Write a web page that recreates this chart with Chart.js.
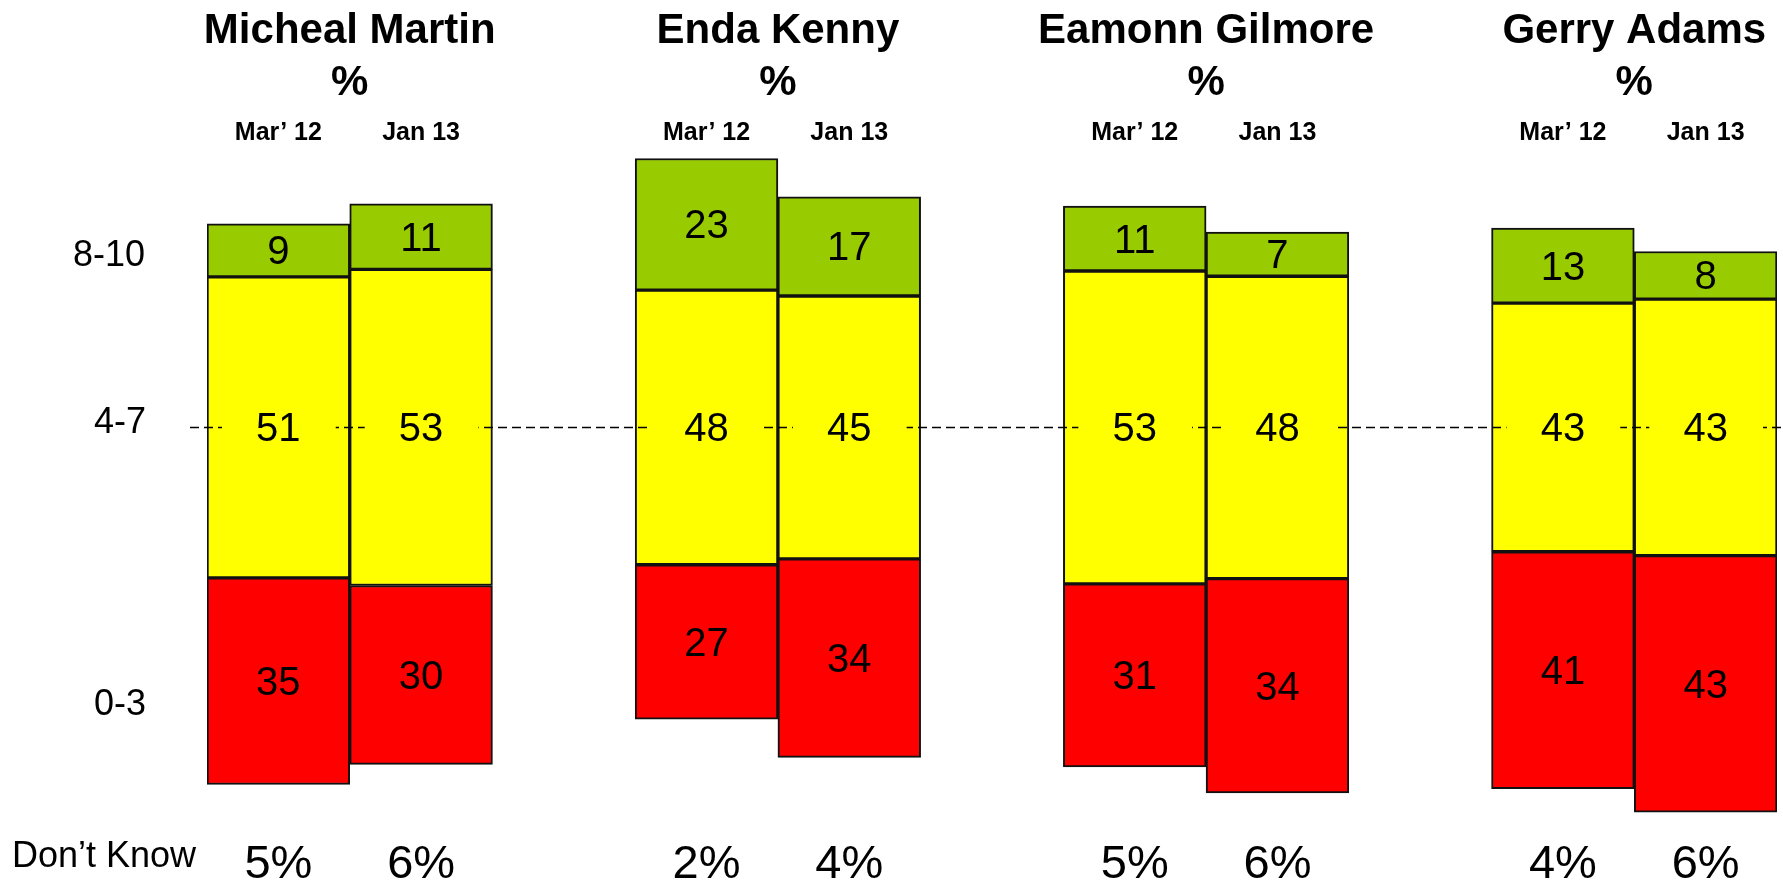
<!DOCTYPE html>
<html>
<head>
<meta charset="utf-8">
<title>Leader satisfaction ratings</title>
<script src="https://cdn.jsdelivr.net/npm/chart.js"></script>
<style>
  html, body { margin: 0; padding: 0; background: #fff; }
  #chartCanvas { display: block; }
</style>
</head>
<body>
<canvas id="chartCanvas" width="1783" height="882"></canvas>
<script>
  const leaders = ['Micheal Martin', 'Enda Kenny', 'Eamonn Gilmore', 'Gerry Adams'];
  const periods = ['Mar\u2019 12', 'Jan 13'];
  // one value per bar: leader by leader, Mar' 12 then Jan 13
  const score0to3 = [35, 30, 27, 34, 31, 34, 41, 43];
  const score4to7 = [51, 53, 48, 45, 53, 48, 43, 43];
  const score8to10 = [9, 11, 23, 17, 11, 7, 13, 8];
  const dontKnow = [5, 6, 2, 4, 5, 6, 4, 6];
  const bandLabels = ['8-10', '4-7', '0-3'];
  const dontKnowLabel = 'Don\u2019t Know';

  const FONT = '"Liberation Sans", Arial, sans-serif';

  // category slots: two bars per leader, then an empty slot between leaders
  const slots = [];
  leaders.forEach((name, g) => {
    periods.forEach((p, k) => slots.push(g * 2 + k));
    if (g < leaders.length - 1) slots.push(null);
  });
  const labels = slots.map(i => (i === null ? '' : periods[i % 2]));

  // each bar is scaled to 100% of rated answers, with the 4-7 block centred on 0
  function pct(i, v) {
    return v / (score0to3[i] + score4to7[i] + score8to10[i]) * 100;
  }
  function band(fn) {
    return slots.map(i => (i === null ? null : fn(i)));
  }
  const lowData = band(i => [-pct(i, score4to7[i]) / 2 - pct(i, score0to3[i]), -pct(i, score4to7[i]) / 2]);
  const midData = band(i => [-pct(i, score4to7[i]) / 2, pct(i, score4to7[i]) / 2]);
  const highData = band(i => [pct(i, score4to7[i]) / 2, pct(i, score4to7[i]) / 2 + pct(i, score8to10[i])]);

  const decor = {
    id: 'decor',
    afterDatasetsDraw(chart) {
      const ctx = chart.ctx;
      const x = chart.scales.x;
      const y = chart.scales.y;
      const y0 = y.getPixelForValue(0);

      ctx.save();
      // dashed 4-7 line across the chart
      ctx.setLineDash([9, 5]);
      ctx.lineWidth = 1.5;
      ctx.strokeStyle = '#000';
      ctx.beginPath();
      ctx.moveTo(190, y0);
      ctx.lineTo(chart.width, y0);
      ctx.stroke();
      ctx.setLineDash([]);

      // the line disappears behind the middle of each yellow block
      chart.getDatasetMeta(1).data.forEach((bar, s) => {
        if (slots[s] === null) return;
        ctx.fillStyle = '#ffff00';
        ctx.fillRect(bar.x - bar.width / 2 + 15, y0 - 4, bar.width - 29, 8);
      });

      // values inside the blocks
      ctx.fillStyle = '#000';
      ctx.textAlign = 'center';
      ctx.textBaseline = 'alphabetic';
      ctx.font = '40px ' + FONT;
      chart.data.datasets.forEach((ds, d) => {
        chart.getDatasetMeta(d).data.forEach((bar, s) => {
          if (slots[s] === null) return;
          ctx.fillText(String(ds.raw[slots[s]]), bar.x, (bar.y + bar.base) / 2 + 14);
        });
      });

      // leader names, period labels, don't know
      leaders.forEach((name, g) => {
        const cx = (x.getPixelForValue(g * 3) + x.getPixelForValue(g * 3 + 1)) / 2;
        ctx.font = 'bold 42px ' + FONT;
        ctx.fillText(name, cx, 43);
        ctx.fillText('%', cx, 95);
      });
      slots.forEach((i, s) => {
        if (i === null) return;
        const bx = x.getPixelForValue(s);
        ctx.font = 'bold 25px ' + FONT;
        ctx.fillText(periods[i % 2], bx, 140);
        ctx.font = '47px ' + FONT;
        ctx.fillText(dontKnow[i] + '%', bx, 878);
      });

      // row labels on the left
      ctx.font = '36px ' + FONT;
      const bandY = [30.9, 1.2, -49.1];
      const bandX = [109, 120, 120];
      bandLabels.forEach((t, k) => {
        ctx.fillText(t, bandX[k], y.getPixelForValue(bandY[k]) + 12);
      });
      ctx.textAlign = 'left';
      ctx.fillText(dontKnowLabel, 12, 867);
      ctx.restore();
    }
  };

  const barStyle = { borderColor: '#111', borderWidth: 2, borderSkipped: false, barPercentage: 1, categoryPercentage: 1 };

  new Chart(document.getElementById('chartCanvas'), {
    type: 'bar',
    data: {
      labels: labels,
      datasets: [
        Object.assign({ label: '0-3', data: lowData, raw: score0to3, backgroundColor: '#ff0000' }, barStyle),
        Object.assign({ label: '4-7', data: midData, raw: score4to7, backgroundColor: '#ffff00' }, barStyle),
        Object.assign({ label: '8-10', data: highData, raw: score8to10, backgroundColor: '#99cc00' }, barStyle),
      ],
    },
    options: {
      responsive: false,
      animation: false,
      devicePixelRatio: 1,
      layout: { padding: { left: 207, right: 6, top: 91, bottom: 6 } },
      plugins: { legend: { display: false }, tooltip: { enabled: false } },
      scales: {
        x: { display: false, stacked: true },
        y: { display: false, stacked: false, min: -80, max: 60 },
      },
    },
    plugins: [decor],
  });
</script>
</body>
</html>
